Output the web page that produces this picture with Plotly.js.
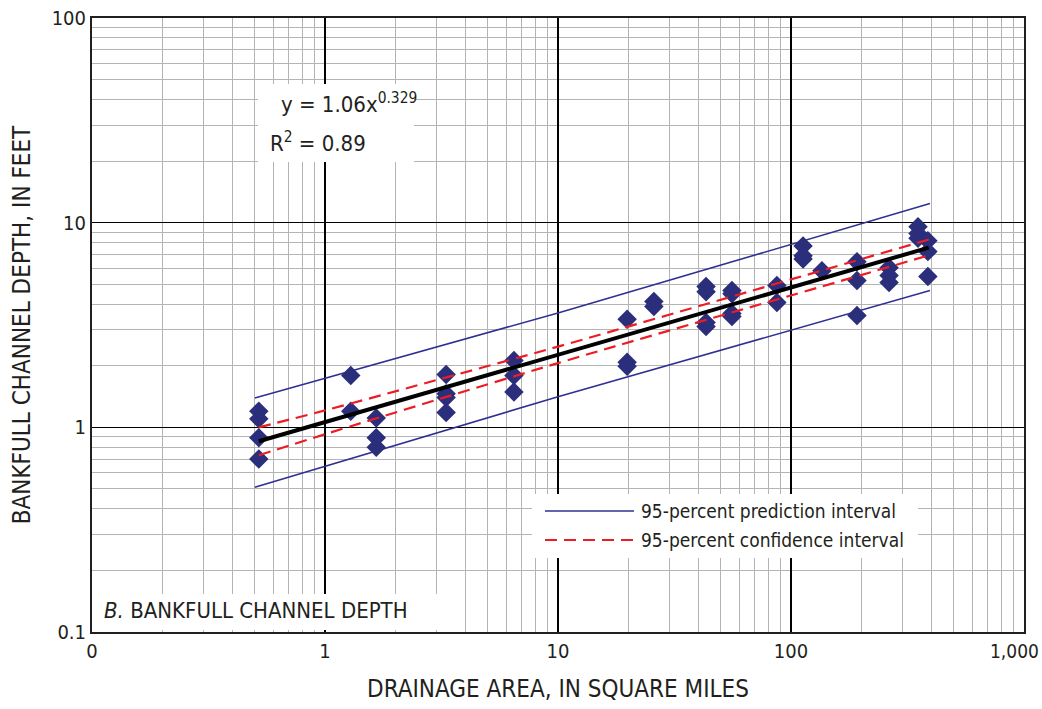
<!DOCTYPE html>
<html><head><meta charset="utf-8">
<script src="https://cdn.plot.ly/plotly-3.0.1.min.js"></script>
<style>html,body{margin:0;padding:0;background:#fff}#chart{width:1042px;height:709px}</style>
</head><body><div id="chart"></div>
<script>
// Observed data (drainage area, sq mi ; bankfull depth, ft)
const areaObs = [0.52,0.52,0.52,0.52, 1.29,1.29, 1.66,1.66,1.66, 3.31,3.31,3.31,3.31, 6.47,6.47,6.47,
  19.8,19.8,19.8, 25.8,25.8, 43.2,43.2,43.2,43.2, 55.8,55.8,55.8,55.8, 87,87,
  112.7,112.7,112.7, 135.8, 192,192,192, 263.6,263.6,263.6, 351,351,351, 387,387,387];
const depthObs = [1.20,1.10,0.89,0.70, 1.79,1.20, 1.11,0.89,0.80, 1.81,1.46,1.40,1.18, 2.12,1.79,1.49,
  3.37,2.08,1.99, 4.12,3.89, 4.87,4.60,3.25,3.11, 4.66,4.50,3.60,3.48, 4.93,4.07,
  7.70,6.90,6.65, 5.83, 6.45,5.21,3.52, 6.03,5.52,5.10, 9.56,8.85,8.40, 8.17,7.22,5.45];
// Regression line  y = 1.06x^0.329 (read at ends)
const fitArea = [0.52, 390];
const fitDepth = [0.855, 7.55];
// 95-percent prediction interval
const piArea = [0.50, 10, 395];
const piUpper = [1.39, 3.62, 12.4];
const piLower = [0.51, 1.41, 4.66];
// 95-percent confidence interval
const ciArea = [0.52, 1, 3, 10, 30, 100, 395];
const ciUpper = [1.00, 1.21, 1.70, 2.48, 3.55, 5.28, 8.30];
const ciLower = [0.73, 0.925, 1.36, 2.06, 2.97, 4.41, 6.95];
// Axis ticks
const xTickVals = [0.1, 1, 10, 100, 1000];
const xTickText = ['0', '1', '10', '100', '1,000'];
const yTickVals = [0.1, 1, 10, 100];
const yTickText = ['0.1', '1', '10', '100'];

function minorVals(decades){const v=[];decades.forEach(d=>{for(let k=2;k<=9;k++)v.push(d*k);});return v;}

const FONT = '"DejaVu Sans Condensed", "Liberation Sans Narrow", "Arial Narrow", sans-serif';
const NAVY = '#2e3192', RED = '#ed1c24', TXT = '#231f20';

const traces = [
  {x: piArea, y: piUpper, mode:'lines', line:{color:NAVY, width:1.6}, hoverinfo:'skip'},
  {x: piArea, y: piLower, mode:'lines', line:{color:NAVY, width:1.6}, hoverinfo:'skip'},
  {x: areaObs, y: depthObs, mode:'markers', marker:{symbol:'diamond', size:15, color:'#2b2e7a'}},
  {x: fitArea, y: fitDepth, mode:'lines', line:{color:'#000', width:4}},
  {x: ciArea, y: ciUpper, mode:'lines', line:{color:RED, width:2.2, dash:'12px,7px', shape:'spline'}},
  {x: ciArea, y: ciLower, mode:'lines', line:{color:RED, width:2.2, dash:'12px,7px', shape:'spline'}}
];

const axisCommon = {
  type:'log', showline:true, linecolor:'#231f20', linewidth:2, mirror:true,
  gridcolor:'#000', gridwidth:1.5, ticks:'', zeroline:false,
  tickfont:{family:FONT, size:20, color:TXT}
};

function px(xp){return (xp-92)/932;}
function py(yp){return (632-yp)/614;}

// last x tick label is drawn right-aligned so it stays inside the page
const xTickTextShown = xTickText.map((t,i)=> i===xTickText.length-1 ? '' : t);

const layout = {
  width:1042, height:709, showlegend:false,
  margin:{l:92, r:18, t:18, b:77},
  paper_bgcolor:'#fff', plot_bgcolor:'#fff',
  font:{family:FONT, color:TXT},
  xaxis: Object.assign({}, axisCommon, {
    range:[-1, 3.0002], tickmode:'array', tickvals:xTickVals, ticktext:xTickTextShown,
    minor:{tickmode:'array', tickvals:minorVals([0.1,1,10,100]), showgrid:true, gridcolor:'#b4b4b4', gridwidth:1, ticks:''},
    title:{text:'DRAINAGE AREA, IN SQUARE MILES', font:{family:FONT, size:24, color:TXT}, standoff:18}
  }),
  yaxis: Object.assign({}, axisCommon, {
    range:[-1, 2], tickmode:'array', tickvals:yTickVals, ticktext:yTickText,
    minor:{tickmode:'array', tickvals:minorVals([0.1,1,10]), showgrid:true, gridcolor:'#b4b4b4', gridwidth:1, ticks:''},
    title:{text:'BANKFULL CHANNEL DEPTH, IN FEET', font:{family:FONT, size:24, color:TXT}, standoff:14}
  }),
  shapes:[
    {type:'rect', xref:'paper', yref:'paper', x0:px(258), x1:px(414), y0:py(162), y1:py(84),
     fillcolor:'#fff', line:{width:0}, layer:'above'},
    {type:'rect', xref:'paper', yref:'paper', x0:px(94), x1:px(442), y0:py(630), y1:py(594),
     fillcolor:'#fff', line:{width:0}, layer:'above'},
    {type:'rect', xref:'paper', yref:'paper', x0:px(532), x1:px(918), y0:py(558), y1:py(494),
     fillcolor:'#fff', line:{width:0}, layer:'above'},
    {type:'line', xref:'paper', yref:'paper', x0:px(545), x1:px(634), y0:py(511), y1:py(511),
     line:{color:NAVY, width:1.6}, layer:'above'},
    {type:'line', xref:'paper', yref:'paper', x0:px(545), x1:px(634), y0:py(540), y1:py(540),
     line:{color:RED, width:2.2, dash:'12px,7px'}, layer:'above'}
  ],
  annotations:[
    {xref:'paper', yref:'paper', x:1, y:py(651), xanchor:'right', yanchor:'middle', xshift:17, showarrow:false,
     text:xTickText[xTickText.length-1], font:{family:FONT, size:19, color:TXT}},
    {xref:'paper', yref:'paper', x:px(279), y:py(103), xanchor:'left', yanchor:'middle', showarrow:false,
     text:'y = 1.06x<sup>0.329</sup>', font:{family:FONT, size:22, color:TXT}},
    {xref:'paper', yref:'paper', x:px(268), y:py(142), xanchor:'left', yanchor:'middle', showarrow:false,
     text:'R<sup>2</sup> = 0.89', font:{family:FONT, size:22, color:TXT}},
    {xref:'paper', yref:'paper', x:px(102), y:py(610), xanchor:'left', yanchor:'middle', showarrow:false,
     text:'<i>B.</i> BANKFULL CHANNEL DEPTH', font:{family:FONT, size:22, color:TXT}},
    {xref:'paper', yref:'paper', x:px(639), y:py(511), xanchor:'left', yanchor:'middle', showarrow:false,
     text:'95-percent prediction interval', font:{family:FONT, size:19, color:TXT}},
    {xref:'paper', yref:'paper', x:px(639), y:py(540), xanchor:'left', yanchor:'middle', showarrow:false,
     text:'95-percent confidence interval', font:{family:FONT, size:19, color:TXT}}
  ]
};

Plotly.newPlot('chart', traces, layout, {displayModeBar:false, staticPlot:true});
</script></body></html>
